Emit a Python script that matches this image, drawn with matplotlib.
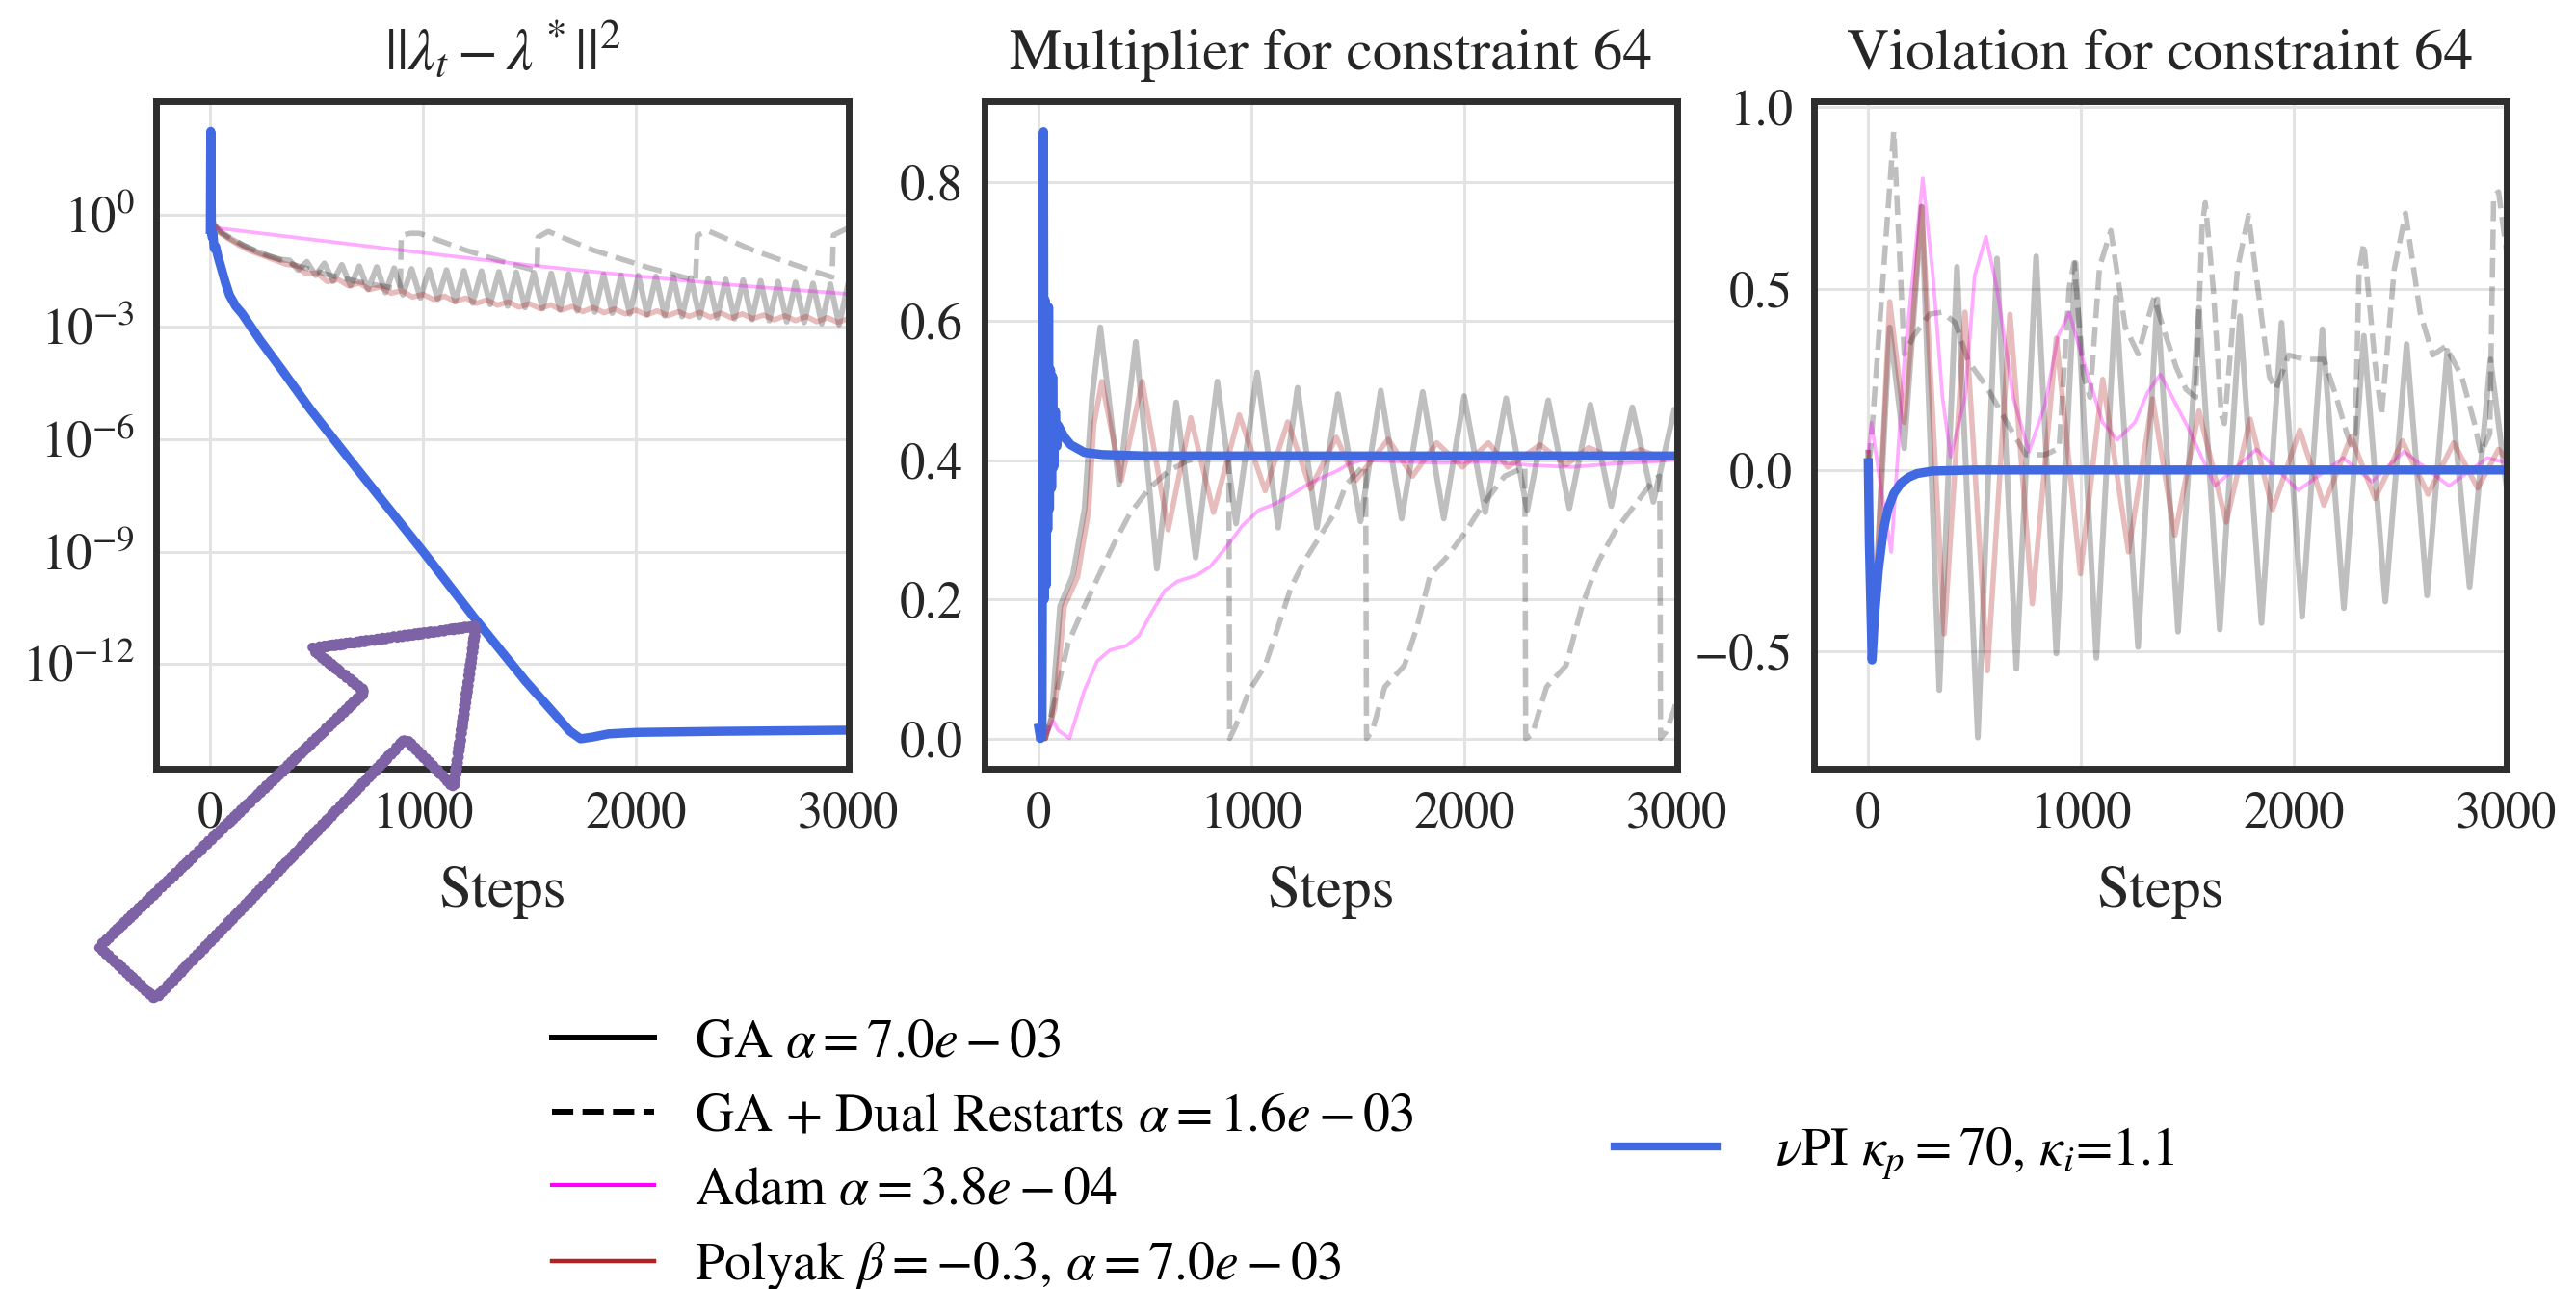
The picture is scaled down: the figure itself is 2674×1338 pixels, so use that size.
import numpy as np
import matplotlib
matplotlib.use("Agg")
import matplotlib.pyplot as plt
from matplotlib.lines import Line2D
from matplotlib.patches import Polygon

plt.rcParams['font.family'] = ['STIXGeneral', 'DejaVu Sans']
plt.rcParams['mathtext.fontset'] = 'stix'

# ---------------- data ----------------
# panel 1: log10 of ||lambda_t - lambda*||^2
ga_dist_steps = [0, 5, 15, 40, 80, 130, 180, 230, 280, 330,
                 372, 413, 454, 495, 536, 577, 618, 659, 700, 741,
                 782, 823, 864, 905, 946, 987, 1028, 1069, 1110, 1151,
                 1192, 1233, 1274, 1315, 1356, 1397, 1438, 1479, 1520, 1561,
                 1602, 1643, 1684, 1725, 1766, 1807, 1848, 1889, 1930, 1971,
                 2012, 2053, 2094, 2135, 2176, 2217, 2258, 2299, 2340, 2381,
                 2422, 2463, 2504, 2545, 2586, 2627, 2668, 2709, 2750, 2791,
                 2832, 2873, 2914, 2955, 2996]
ga_dist_log = [-0.35, 0.08, -0.25, -0.45, -0.6, -0.75, -0.9, -1.02, -1.12, -1.2,
               -1.22, -1.48, -1.26, -1.62, -1.30, -1.78, -1.34, -1.90, -1.38, -2.00,
               -1.40, -2.08, -1.43, -2.14, -1.45, -2.22, -1.47, -2.26, -1.48, -2.32,
               -1.50, -2.36, -1.51, -2.40, -1.53, -2.44, -1.54, -2.48, -1.55, -2.51,
               -1.57, -2.54, -1.58, -2.57, -1.59, -2.60, -1.60, -2.63, -1.62, -2.65,
               -1.63, -2.67, -1.65, -2.70, -1.67, -2.72, -1.69, -2.74, -1.71, -2.76,
               -1.73, -2.78, -1.75, -2.80, -1.77, -2.83, -1.79, -2.86, -1.81, -2.88,
               -1.84, -2.91, -1.86, -2.94, -1.88]

dual_dist_steps = [0, 5, 15, 60, 150, 250, 400, 550, 700, 850, 893, 897, 940, 983,
                   1200, 1400, 1535, 1540, 1588, 1800, 2050, 2280, 2288, 2337,
                   2550, 2750, 2922, 2928, 3000]
dual_dist_log = [-0.35, 0.05, -0.25, -0.5, -0.8, -1.05, -1.35, -1.6, -1.8, -1.95, -1.97, -0.56, -0.5, -0.5,
                 -0.95, -1.3, -1.5, -0.6, -0.45, -0.95, -1.4, -1.76, -0.56, -0.43,
                 -0.95, -1.35, -1.67, -0.55, -0.35]

adam_dist_steps = [0, 5, 20, 500, 1000, 1500, 2000, 2500, 3000]
adam_dist_log = [-0.35, 0.0, -0.35, -0.68, -1.02, -1.35, -1.64, -1.9, -2.12]

polyak_dist_steps = [0, 5, 15, 40, 80, 130, 180, 250, 358,
                     400, 450, 500, 550, 600, 650, 700, 750, 800, 850,
                     900, 950, 1000, 1050, 1100, 1150, 1200, 1250, 1300, 1350,
                     1400, 1450, 1500, 1550, 1600, 1650, 1700, 1750, 1800, 1850,
                     1900, 1950, 2000, 2050, 2100, 2150, 2200, 2250, 2300, 2350,
                     2400, 2450, 2500, 2550, 2600, 2650, 2700, 2750, 2800, 2850,
                     2900, 2950, 3000]
polyak_dist_log = [-0.35, 0.08, -0.25, -0.45, -0.62, -0.8, -0.95, -1.1, -1.33,
                   -1.36, -1.58, -1.56, -1.79, -1.73, -1.90, -1.83, -2.00, -1.93, -2.10,
                   -2.03, -2.20, -2.13, -2.27, -2.18, -2.32, -2.23, -2.37, -2.28, -2.42,
                   -2.33, -2.47, -2.38, -2.51, -2.41, -2.55, -2.45, -2.59, -2.48, -2.62,
                   -2.52, -2.65, -2.55, -2.68, -2.57, -2.70, -2.59, -2.72, -2.61, -2.74,
                   -2.63, -2.76, -2.65, -2.78, -2.68, -2.81, -2.70, -2.83, -2.72, -2.86,
                   -2.75, -2.88, -2.77]

pi_dist_steps = [0, 2, 5, 8, 12, 18, 25, 35, 50, 70, 90, 120, 150, 233, 337, 470, 670,
                 1000, 1245, 1480, 1690, 1740, 1800, 1870, 2000, 2400, 3000]
pi_dist_log = [-0.4, 2.22, -0.3, -0.6, -0.5, -0.9, -0.85, -1.1, -1.4, -1.8, -2.15, -2.45, -2.65,
               -3.35, -4.15, -5.2, -6.65, -9.0, -10.8, -12.45, -13.8, -14.0, -13.95, -13.87,
               -13.83, -13.8, -13.77]

# panel 2: multiplier for constraint 64
ga_mult_steps = [0, 30, 60, 100, 160, 215, 250, 289, 377, 456, 555, 646, 737, 839, 927,
                 1026, 1125, 1216, 1307, 1406, 1512, 1607, 1705, 1804, 1903, 1999, 2098,
                 2196, 2295, 2394, 2493, 2592, 2690, 2789, 2888, 2987, 3000]
ga_mult = [0.0, 0.0, 0.03, 0.19, 0.235, 0.33, 0.49, 0.591, 0.365, 0.57, 0.244, 0.483, 0.26,
           0.513, 0.309, 0.526, 0.303, 0.504, 0.303, 0.495, 0.312, 0.5, 0.316, 0.498, 0.316,
           0.492, 0.325, 0.489, 0.328, 0.486, 0.331, 0.48, 0.334, 0.476, 0.34, 0.473, 0.47]

dual_mult_steps = [0, 30, 76, 137, 198, 274, 350, 426, 517, 608,
                   699, 790, 893, 897, 927, 988, 1064, 1125, 1185, 1246,
                   1322, 1398, 1444, 1520, 1536, 1540, 1566, 1626, 1718, 1778,
                   1839, 1915, 2006, 2082, 2189, 2284, 2288, 2318, 2386, 2478,
                   2554, 2630, 2706, 2797, 2888, 2918, 2922, 2949, 2987, 3000]
dual_mult = [0.0, 0.0, 0.056, 0.136, 0.179, 0.229, 0.278, 0.322, 0.359, 0.384,
             0.399, 0.405, 0.408, 0.0, 0.019, 0.068, 0.105, 0.161, 0.217, 0.254,
             0.291, 0.328, 0.365, 0.39, 0.392, 0.0, 0.01, 0.074, 0.105, 0.161,
             0.235, 0.26, 0.297, 0.334, 0.377, 0.39, 0.0, 0.005, 0.074, 0.105,
             0.192, 0.254, 0.297, 0.334, 0.371, 0.377, 0.0, 0.01, 0.043, 0.06]

adam_mult_steps = [0, 23, 68, 90, 144, 213, 274, 334, 410, 471, 532, 593, 653, 745, 805,
                   881, 957, 1033, 1109, 1185, 1246, 1322, 1398, 1460, 1520, 1700, 1900,
                   2100, 2300, 2500, 2700, 2900, 3000]
adam_mult = [0.0, 0.0, 0.025, 0.012, 0.0, 0.068, 0.111, 0.127, 0.133, 0.148, 0.182, 0.213,
             0.226, 0.235, 0.247, 0.275, 0.306, 0.328, 0.337, 0.35, 0.362, 0.374, 0.384,
             0.395, 0.4, 0.398, 0.396, 0.398, 0.393, 0.39, 0.395, 0.398, 0.402]

polyak_mult_steps = [0, 30, 75, 120, 182, 235, 258, 296, 388, 486, 608, 714, 821, 942, 1064,
                     1170, 1277, 1398, 1490, 1642, 1756, 1870, 1991, 2113, 2204, 2356, 2478,
                     2584, 2706, 2827, 2934, 3000]
polyak_mult = [0.0, 0.0, 0.043, 0.19, 0.232, 0.33, 0.45, 0.513, 0.371, 0.513, 0.3, 0.461,
               0.325, 0.465, 0.356, 0.455, 0.359, 0.433, 0.371, 0.43, 0.377, 0.425, 0.39,
               0.425, 0.39, 0.422, 0.393, 0.418, 0.402, 0.415, 0.402, 0.41]

pi_mult_steps = [0, 8, 15, 22, 26, 30, 34, 38, 42, 46, 50, 55, 60, 65, 70, 78, 85, 91,
                 120, 150, 215, 300, 500, 3000]
pi_mult = [0.015, 0.0, 0.01, 0.872, 0.2, 0.63, 0.22, 0.6, 0.3, 0.62, 0.33, 0.53, 0.36,
           0.52, 0.39, 0.47, 0.42, 0.45, 0.433, 0.422, 0.411, 0.408, 0.406, 0.406]

# panel 3: violation for constraint 64
ga_viol_steps = [0, 26, 101, 169, 251, 334, 417, 515, 605, 696, 789, 884, 974, 1072, 1163,
                 1268, 1358, 1456, 1554, 1652, 1747, 1848, 1942, 2039, 2134, 2235, 2329,
                 2430, 2530, 2626, 2721, 2826, 2924, 3000]
ga_viol = [0.048, -0.45, 0.393, 0.06, 0.726, -0.607, 0.56, -0.738, 0.583, -0.548, 0.589,
           -0.506, 0.571, -0.518, 0.476, -0.488, 0.471, -0.446, 0.447, -0.44, 0.424, -0.422,
           0.406, -0.405, 0.388, -0.381, 0.37, -0.363, 0.347, -0.346, 0.329, -0.322, 0.305,
           -0.05]

dual_viol_steps = [0, 10, 120, 169, 214, 289, 349, 410, 470, 560,
                   651, 741, 831, 897, 944, 967, 1012, 1042, 1087, 1140,
                   1208, 1268, 1343, 1388, 1448, 1494, 1539, 1569, 1584, 1622,
                   1659, 1674, 1735, 1787, 1840, 1885, 1915, 1976, 2051, 2141,
                   2201, 2247, 2269, 2288, 2307, 2329, 2382, 2412, 2472, 2525,
                   2593, 2653, 2713, 2789, 2849, 2879, 2921, 2939, 2962, 3000]
dual_viol = [0.02, 0.048, 0.935, 0.32, 0.37, 0.43, 0.435, 0.405, 0.30, 0.226,
             0.131, 0.042, 0.042, 0.06, 0.5, 0.571, 0.262, 0.2, 0.56, 0.66,
             0.393, 0.32, 0.476, 0.388, 0.282, 0.222, 0.2, 0.672, 0.737, 0.495,
             0.151, 0.128, 0.554, 0.702, 0.459, 0.258, 0.222, 0.317, 0.305, 0.305,
             0.199, 0.104, 0.069, 0.1, 0.554, 0.625, 0.293, 0.151, 0.554, 0.708,
             0.435, 0.317, 0.341, 0.258, 0.128, 0.045, 0.1, 0.755, 0.767, 0.6]

adam_viol_steps = [0, 15, 60, 108, 169, 256, 304, 349, 387, 455,
                   500, 553, 605, 681, 755, 831, 892, 944, 1012, 1102,
                   1170, 1253, 1313, 1373, 1500, 1629, 1825, 2021, 2232, 2367,
                   2518, 2729, 2909, 3000]
adam_viol = [0.05, 0.13, -0.05, -0.226, 0.3, 0.804, 0.536, 0.2, 0.036, 0.2,
             0.536, 0.643, 0.5, 0.2, 0.05, 0.18, 0.369, 0.435, 0.298, 0.131,
             0.083, 0.131, 0.214, 0.264, 0.12, -0.044, 0.057, -0.056, 0.033, -0.032,
             0.051, -0.044, 0.033, 0.02]

polyak_viol_steps = [0, 26, 101, 169, 251, 357, 455, 560, 666, 771, 884, 997, 1102, 1223,
                     1336, 1441, 1554, 1682, 1795, 1900, 2028, 2141, 2269, 2382, 2510,
                     2631, 2751, 2864, 2962, 3000]
polyak_viol = [0.048, -0.45, 0.464, 0.131, 0.726, -0.452, 0.435, -0.554, 0.429, -0.369,
               0.363, -0.286, 0.25, -0.226, 0.196, -0.18, 0.163, -0.144, 0.14, -0.109,
               0.11, -0.097, 0.092, -0.079, 0.08, -0.067, 0.075, -0.05, 0.057, 0.03]

pi_viol_steps = [0, 5, 18, 30, 48, 70, 93, 120, 154, 190, 229, 300, 500, 3000]
pi_viol = [0.02, -0.2, -0.524, -0.4, -0.274, -0.17, -0.107, -0.065, -0.036, -0.02, -0.01,
           -0.003, 0.0, 0.0]

titles = [r"$||\lambda_t - \lambda^*||^2$", "Multiplier for constraint 64",
          "Violation for constraint 64"]
labels = [r"GA $\alpha = 7.0e-03$",
          r"GA + Dual Restarts $\alpha = 1.6e-03$",
          r"Adam $\alpha = 3.8e-04$",
          r"Polyak $\beta = -0.3$, $\alpha = 7.0e-03$",
          r"$\nu$PI $\kappa_p = 70$, $\kappa_i$=1.1"]

# ---------------- styles ----------------
sGA = dict(color="black", alpha=0.25, lw=4.3, solid_joinstyle="round")
sDual = dict(color="black", alpha=0.25, lw=4.0, ls="--")
sAdam = dict(color="magenta", alpha=0.33, lw=2.7, solid_joinstyle="round")
sPolyak = dict(color="firebrick", alpha=0.3, lw=4.0, solid_joinstyle="round")
sPI = dict(color="royalblue", lw=6.8)

W, H = 2674, 1338
fig = plt.figure(figsize=(W / 100, H / 100), dpi=100)

axLefts = [162, 1022, 1883]
axes = [fig.add_axes([l / W, 1 - 798 / H, 719 / W, 693 / H]) for l in axLefts]


def styleAxes(ax, title):
    ax.set_facecolor("white")
    ax.grid(True, color="#e3e3e3", lw=2.2)
    ax.set_axisbelow(True)
    for sp in ax.spines.values():
        sp.set_color("#2e2e2e")
        sp.set_linewidth(5)
    ax.tick_params(axis="both", length=0, labelsize=38, colors="#262626")
    ax.tick_params(axis="x", pad=17)
    ax.tick_params(axis="y", pad=16)
    ax.set_title(title, fontsize=44, pad=24, color="#262626")
    ax.set_xlabel("Steps", fontsize=44, labelpad=20, color="#262626")
    ax.set_xlim(-255, 3000)
    ax.set_xticks([0, 1000, 2000, 3000])


# panel 1
ax = axes[0]
ax.plot(ga_dist_steps, 10.0 ** np.array(ga_dist_log), **sGA)
ax.plot(dual_dist_steps, 10.0 ** np.array(dual_dist_log), **sDual)
ax.plot(adam_dist_steps, 10.0 ** np.array(adam_dist_log), **sAdam)
ax.plot(polyak_dist_steps, 10.0 ** np.array(polyak_dist_log), **sPolyak)
ax.plot(pi_dist_steps, 10.0 ** np.array(pi_dist_log), **sPI)
ax.set_yscale("log")
ax.set_ylim(10 ** -14.8, 10 ** 3.03)
ax.set_yticks([1e-12, 1e-9, 1e-6, 1e-3, 1e0])
ax.yaxis.set_minor_locator(matplotlib.ticker.NullLocator())
styleAxes(ax, titles[0])

# panel 2
ax = axes[1]
ax.plot(ga_mult_steps, ga_mult, **sGA)
ax.plot(dual_mult_steps, dual_mult, **sDual)
ax.plot(adam_mult_steps, adam_mult, **sAdam)
ax.plot(polyak_mult_steps, polyak_mult, **sPolyak)
ax.plot(pi_mult_steps, pi_mult, **sPI)
ax.set_ylim(-0.0436, 0.916)
ax.set_yticks([0.0, 0.2, 0.4, 0.6, 0.8])
styleAxes(ax, titles[1])

# panel 3
ax = axes[2]
ax.plot(ga_viol_steps, ga_viol, **sGA)
ax.plot(dual_viol_steps, dual_viol, **sDual)
ax.plot(adam_viol_steps, adam_viol, **sAdam)
ax.plot(polyak_viol_steps, polyak_viol, **sPolyak)
ax.plot(pi_viol_steps, pi_viol, **sPI)
ax.set_ylim(-0.824, 1.017)
ax.set_yticks([-0.5, 0.0, 0.5, 1.0])
styleAxes(ax, titles[2])

# legends
leftHandles = [Line2D([], [], color="black", lw=4.3),
               Line2D([], [], color="black", lw=4.3, ls="--"),
               Line2D([], [], color="magenta", lw=3.0),
               Line2D([], [], color="firebrick", lw=3.2)]
fig.legend(leftHandles, labels[:4], loc="center left", bbox_to_anchor=(573 / W, 1 - 1200 / H),
           frameon=False, fontsize=40, borderpad=0, borderaxespad=0, handlelength=1.9,
           handletextpad=0.76, labelspacing=0.46)
fig.legend([Line2D([], [], color="royalblue", lw=6)], labels[4:], loc="center left",
           bbox_to_anchor=(1676 / W, 1 - 1198 / H), frameon=False, fontsize=40, borderpad=0,
           borderaxespad=0, handlelength=1.9, handletextpad=1.1)

# hand-drawn purple arrow over the first panel
arrowPx = [(103, 983), (379, 718), (323, 673), (494, 650), (471, 817), (421, 767), (161, 1037)]
arrowFig = [(x / W, 1 - y / H) for x, y in arrowPx]
for lw, sk in [(6.5, (1.8, 6, 2)), (3.5, (2.6, 4, 3))]:
    arrow = Polygon(arrowFig, closed=True, fill=False, edgecolor="#7E62A6", lw=lw,
                    transform=fig.transFigure, joinstyle="round", capstyle="round")
    arrow.set_sketch_params(scale=sk[0], length=sk[1], randomness=sk[2])
    fig.patches.append(arrow)

fig.savefig("out.png", dpi=100, facecolor="white")
